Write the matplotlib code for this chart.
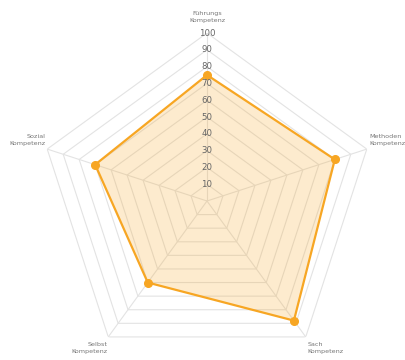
import numpy as np
import matplotlib.pyplot as plt

# Kompetenz-Profil (Radar)
labels = ["Führungs\nKompetenz", "Methoden\nKompetenz", "Sach\nKompetenz",
          "Selbst\nKompetenz", "Sozial\nKompetenz"]
werte = [75, 80, 88, 60, 70]
ticks = [10, 20, 30, 40, 50, 60, 70, 80, 90, 100]

# label offsets in pixels, relative to the outer vertex
label_off = [(0, 16), (3, 9), (2, -11), (-1, -11), (-2, 9)]
label_ha = ["center", "left", "left", "right", "right"]

orange = "#F7A623"
grid_col = "#e3e3e3"
text_col = "#777777"

n = len(labels)
theta = np.arange(n) * 2 * np.pi / n
theta_c = np.append(theta, theta[0])

fig = plt.figure(figsize=(4.06, 3.6), dpi=100)
# center ~ (207, 201) px, radius 168 px
ax = fig.add_axes([39 / 406, (159 - 168) / 360, 336 / 406, 336 / 360], projection="polar")
ax.set_theta_zero_location("N")
ax.set_theta_direction(-1)
ax.set_ylim(0, 100)
ax.grid(False)
ax.spines["polar"].set_visible(False)
ax.set_xticks([])
ax.set_yticks([])
ax.patch.set_alpha(0)

# polygon grid
for t in ticks:
    ax.plot(theta_c, [t] * (n + 1), color=grid_col, lw=0.8, zorder=1)
for th in theta:
    ax.plot([th, th], [0, 100], color=grid_col, lw=0.8, zorder=1)

# data
w = werte + werte[:1]
ax.fill(theta_c, w, color=orange, alpha=0.22, lw=0, zorder=2)
ax.plot(theta_c, w, color=orange, lw=1.6, zorder=3)
ax.plot(theta, werte, "o", color=orange, ms=5.5, zorder=4)

# tick labels
for t in ticks:
    ax.text(0, t, str(t), ha="center", va="center", fontsize=6.2,
            color="#666666", zorder=5)

# point labels
for th, lab, off, ha in zip(theta, labels, label_off, label_ha):
    ax.annotate(lab, xy=(th, 100), xytext=off, textcoords="offset pixels",
                ha=ha, va="center", fontsize=4.6, color=text_col,
                multialignment=ha,
                linespacing=1.35, annotation_clip=False)

plt.savefig("out.png", dpi=100)
